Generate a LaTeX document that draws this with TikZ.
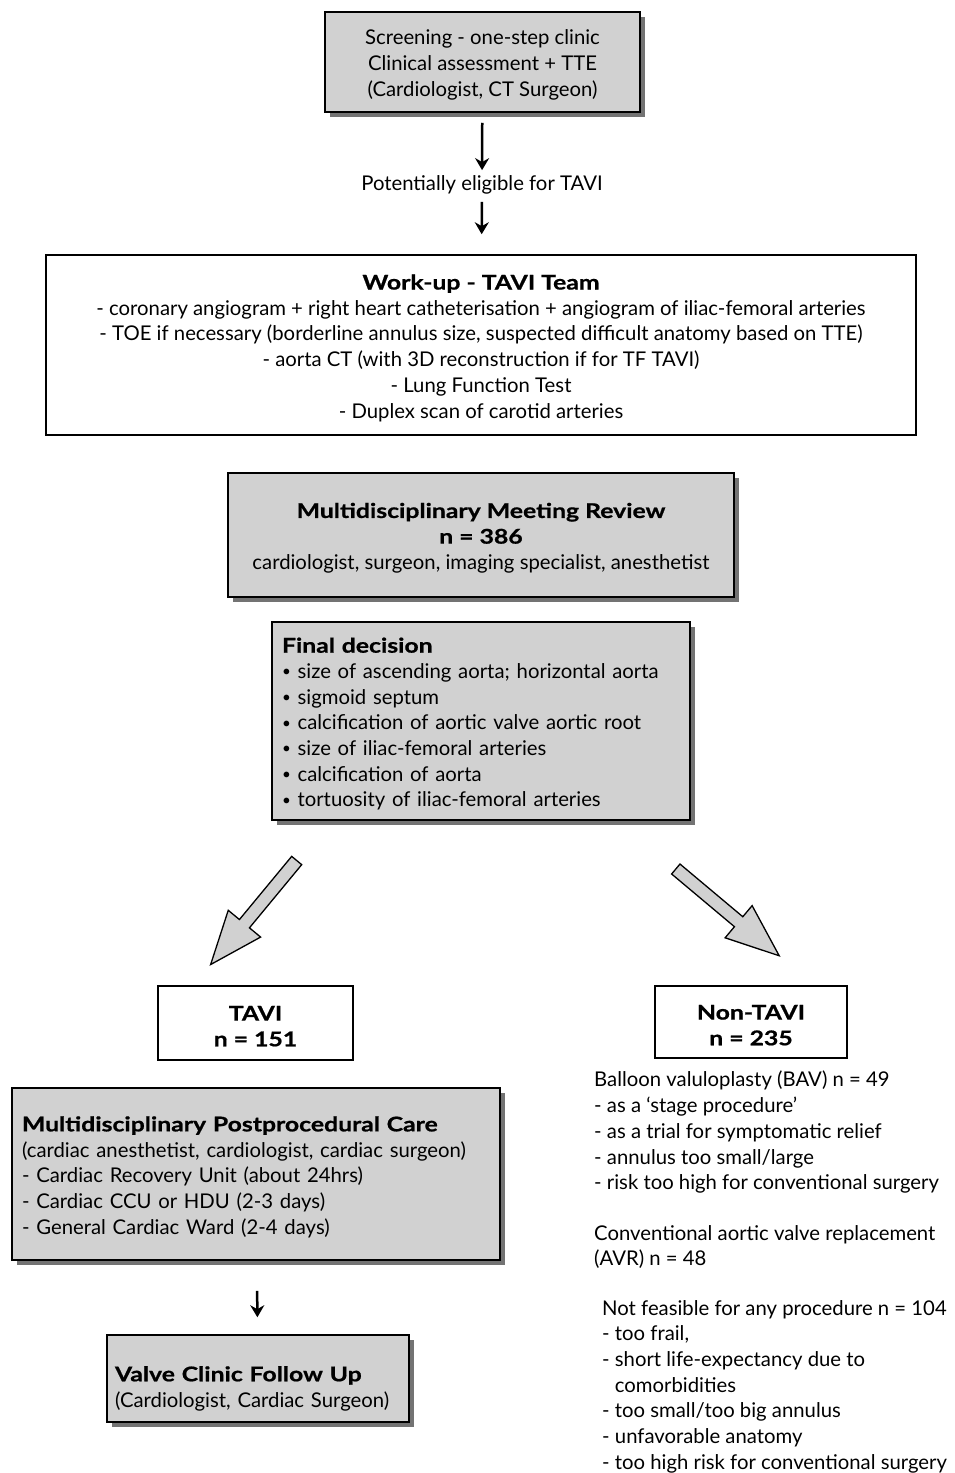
\documentclass[tikz,border=0pt]{standalone}
\usepackage{fontspec}
\setmainfont{Lato}[BoldFeatures={FakeStretch=1.22,FakeBold=0.8}]
\usetikzlibrary{arrows.meta,shadows,positioning}

\definecolor{boxgray}{gray}{0.82}

% small bullet
\newcommand{\dotitem}{\raisebox{0.15ex}{\scalebox{0.75}{•}}\ }
% extra room above first line
\newcommand{\topstrut}{\rule{0pt}{21pt}}
% block arrow: tail point, angle
\newcommand{\blockarrow}[3]{%
  \begin{scope}[shift={(#1,#2)},rotate=#3]
    \draw[bigarrow] (0,-6.5) -- (82,-6.5) -- (82,-21) -- (135,0) -- (82,21) -- (82,6.5) -- (0,6.5) -- cycle;
  \end{scope}}

\begin{document}
\begin{tikzpicture}[x=1pt,y=-1pt,
    every node/.style={font=\fontsize{20.3}{25.7}\selectfont},
    box/.style={draw, line width=1.5pt, inner sep=0pt, align=center},
    graybox/.style={box, fill=boxgray, drop shadow={shadow xshift=5pt, shadow yshift=-5pt, opacity=0.55, fill=black}},
    leftbox/.style={graybox, align=left, inner xsep=10pt, execute at begin node={\topstrut}},
    flow/.style={-{Stealth[length=12pt,width=14pt]}, line width=2.5pt},
    bigarrow/.style={line width=1.3pt, fill=boxgray, line join=miter}]
  \useasboundingbox (0,0) rectangle (955,1473);

  % Screening
  \node[graybox, minimum width=315pt, minimum height=100pt] (screen) at (482.5,62)
    {\topstrut Screening - one-step clinic\\Clinical assessment + TTE\\(Cardiologist, CT Surgeon)};
  \node (elig) at (482,185) {Potentially eligible for TAVI};

  % Work-up
  \node[box, fill=white, minimum width=870pt, minimum height=180pt] (workup) at (481,345)
    {\topstrut\textbf{Work-up - TAVI Team}\\
     - coronary angiogram + right heart catheterisation + angiogram of iliac-femoral arteries\\
     - TOE if necessary (borderline annulus size, suspected difficult anatomy based on TTE)\\
     - aorta CT (with 3D reconstruction if for TF TAVI)\\
     - Lung Function Test\\
     - Duplex scan of carotid arteries};

  % Meeting and decision
  \node[graybox, minimum width=506pt, minimum height=124pt] (mdm) at (481,535)
    {\topstrut\textbf{Multidisciplinary Meeting Review}\\\textbf{n = 386}\\
     cardiologist, surgeon, imaging specialist, anesthetist};
  \node[leftbox, text width=398pt, minimum height=198pt] (final) at (481,721)
    {\textbf{Final decision}\\
     \dotitem size of ascending aorta; horizontal aorta\\
     \dotitem sigmoid septum\\
     \dotitem calcification of aortic valve aortic root\\
     \dotitem size of iliac-femoral arteries\\
     \dotitem calcification of aorta\\
     \dotitem tortuosity of iliac-femoral arteries};

  % Split
  \blockarrow{296.7}{860.5}{-129.6}
  \blockarrow{675.8}{869}{-40}

  % TAVI branch
  \node[box, fill=white, minimum width=195pt, minimum height=74pt] (tavi) at (255.5,1023)
    {\topstrut\textbf{TAVI}\\\textbf{n = 151}};
  \node[leftbox, text width=468pt, minimum height=172pt] (post) at (256,1174)
    {\textbf{Multidisciplinary Postprocedural Care}\\
     (cardiac anesthetist, cardiologist, cardiac surgeon)\\
     - Cardiac Recovery Unit (about 24hrs)\\
     - Cardiac CCU or HDU (2-3 days)\\
     - General Cardiac Ward (2-4 days)};
  \node[leftbox, inner xsep=8pt, text width=286pt, minimum height=87pt,
        execute at begin node={\rule{0pt}{35pt}}] (valve) at (258,1378.5)
    {\textbf{Valve Clinic Follow Up}\\
     (Cardiologist, Cardiac Surgeon)};

  % Non-TAVI branch
  \node[box, fill=white, minimum width=192pt, minimum height=72pt] (nontavi) at (751,1022)
    {\topstrut\textbf{Non-TAVI}\\\textbf{n = 235}};
  \node[align=left, anchor=north west, inner sep=0pt] (bav) at (594,1071)
    {Balloon valuloplasty (BAV) n = 49\\
     - as a ‘stage procedure’\\
     - as a trial for symptomatic relief\\
     - annulus too small/large\\
     - risk too high for conventional surgery};
  \node[align=left, anchor=north west, inner sep=0pt] (avr) at (594,1225)
    {Conventional aortic valve replacement\\
     (AVR) n = 48};
  \node[align=left, anchor=north west, inner sep=0pt] (nofeas) at (602,1300)
    {Not feasible for any procedure n = 104\\
     - too frail,\\
     - short life-expectancy due to\\
     \phantom{- }comorbidities\\
     - too small/too big annulus\\
     - unfavorable anatomy\\
     - too high risk for conventional surgery};

  % Arrows
  \draw[flow, shorten <=10pt, shorten >=2pt] (screen) -- (elig);
  \draw[flow, shorten <=4pt, shorten >=20pt] (elig) -- (workup);
  \draw[flow, shorten <=30pt, shorten >=17pt] (post) -- (valve);
\end{tikzpicture}
\end{document}
